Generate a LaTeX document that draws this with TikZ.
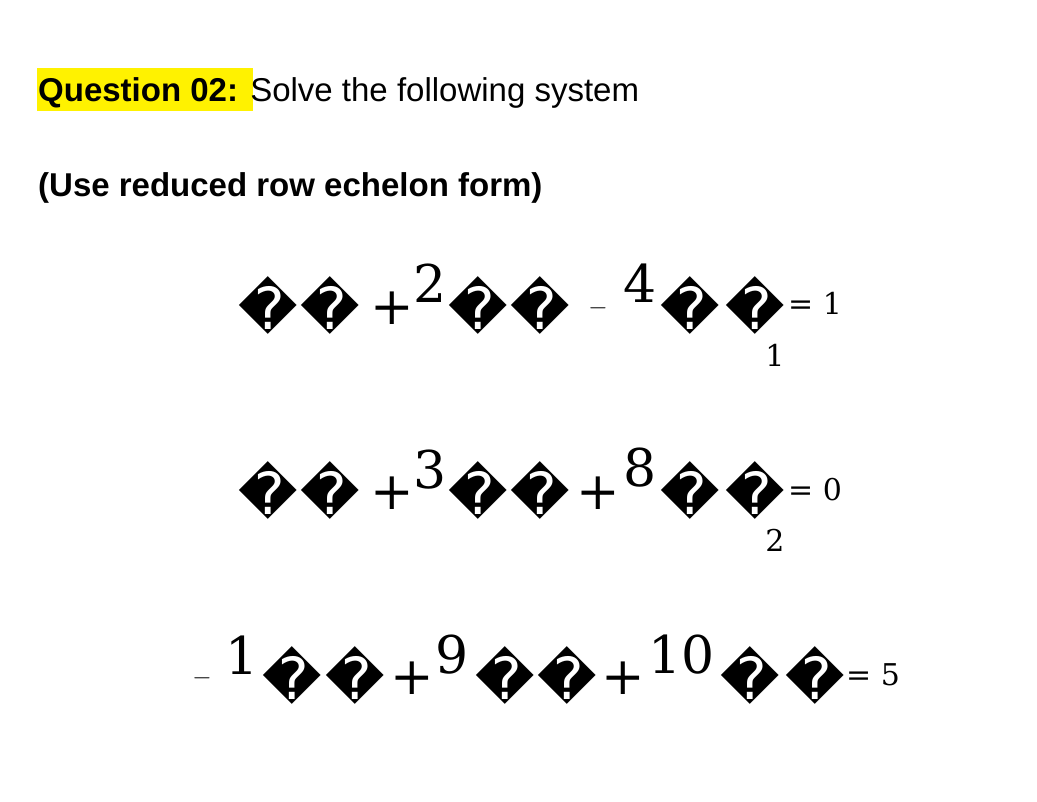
\documentclass[tikz,border=0pt]{standalone}
\usepackage{fontspec}
\setmainfont{Liberation Sans}
\newfontfamily\djsans{DejaVu Sans}
\newfontfamily\djser{DejaVu Serif}
\begin{document}
\begin{tikzpicture}[x=1pt,y=-1pt,
  t/.style={inner sep=0pt,anchor=base west},
  rc/.style={inner sep=0pt,font=\djsans\fontsize{58}{60}\selectfont},
  big/.style={inner sep=0pt,font=\djser\fontsize{52}{54}\selectfont},
  sm/.style={inner sep=0pt,font=\djser\fontsize{30}{32}\selectfont}]
\useasboundingbox (0,0) rectangle (1037,802);
\fill[yellow] (37,68) rectangle (253,111);
\node[t,font=\fontsize{33}{36}\selectfont] (q) at (38,102) {\textbf{Question 02:} Solve the following system};
\node[t,font=\bfseries\fontsize{33}{36}\selectfont] (u) at (38,197) {(Use reduced row echelon form)};
% row 1
\node[rc] (a1) at (268,305) {\char"FFFD};
\node[rc] (a2) at (330,305) {\char"FFFD};
\node[big] (p1) at (392,308) {+};
\node[big] (s1) at (430,283) {2};
\node[rc] (a3) at (478,305) {\char"FFFD};
\node[rc] (a4) at (540,305) {\char"FFFD};
\node[big] (m1) at (598,308) {$-$};
\node[big] (s2) at (640,283) {4};
\node[rc] (a5) at (690,305) {\char"FFFD};
\node[rc] (a6) at (755,305) {\char"FFFD};
\node[sm] (e1) at (815,303) {= 1};
\node[sm] (b1) at (775,355) {1};
% row 2
\node[rc] (c1) at (268,490) {\char"FFFD};
\node[rc] (c2) at (330,490) {\char"FFFD};
\node[big] (p2) at (392,493) {+};
\node[big] (s3) at (430,470) {3};
\node[rc] (c3) at (478,490) {\char"FFFD};
\node[rc] (c4) at (540,490) {\char"FFFD};
\node[big] (p3) at (598,493) {+};
\node[big] (s4) at (640,468) {8};
\node[rc] (c5) at (690,490) {\char"FFFD};
\node[rc] (c6) at (755,490) {\char"FFFD};
\node[sm] (e2) at (815,490) {= 0};
\node[sm] (b2) at (775,540) {2};
% row 3
\node[big] (m2) at (202,678) {$-$};
\node[big] (s5) at (242,655) {1};
\node[rc] (d1) at (292,675) {\char"FFFD};
\node[rc] (d2) at (355,675) {\char"FFFD};
\node[big] (p4) at (412,678) {+};
\node[big] (s6) at (452,655) {9};
\node[rc] (d3) at (505,675) {\char"FFFD};
\node[rc] (d4) at (567,675) {\char"FFFD};
\node[big] (p5) at (623,678) {+};
\node[big] (s7) at (682,655) {10};
\node[rc] (d5) at (750,675) {\char"FFFD};
\node[rc] (d6) at (815,675) {\char"FFFD};
\node[sm] (e3) at (873,675) {= 5};
\end{tikzpicture}
\end{document}
